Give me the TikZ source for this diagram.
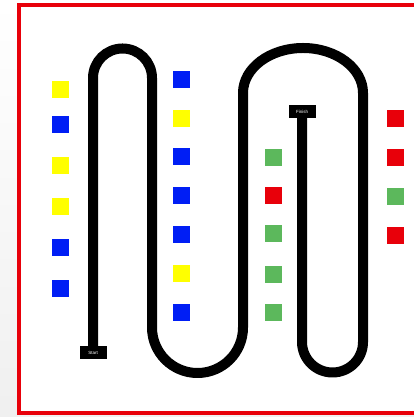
\documentclass[tikz,border=0pt]{standalone}
\usepackage{fontspec}
\setmainfont{Liberation Sans}
\definecolor{tileyellow}{RGB}{255,255,0}
\definecolor{tileblue}{RGB}{0,30,245}
\definecolor{tilered}{RGB}{232,0,10}
\definecolor{tilegreen}{RGB}{92,184,92}
\definecolor{frame}{RGB}{232,0,10}
\begin{document}
\begin{tikzpicture}[x=1pt,y=1pt,
  tile/.style={minimum size=17pt,inner sep=0pt,draw=none,fill=#1},
  track/.style={line width=10pt,line join=round,draw=black},
  label/.style={fill=black,text=white,minimum width=27pt,minimum height=13pt,
    inner sep=0pt,font=\fontsize{4.5}{5}\selectfont}]
\useasboundingbox (0,0) rectangle (414,417);
% page backdrop and board
\shade[top color=white,bottom color=gray!12] (0,0) rectangle (414,417);
\fill[white] (19,3.5) rectangle (420,412.3);
\draw[frame,line width=4pt] (19,3.5) rectangle (440,412.3);

% ends of the line
\coordinate (s) at (93,64);
\coordinate (f) at (302,305.5);

% the serpentine line from start to finish
\draw[track] (s) -- (93,339)
  arc[start angle=180,end angle=0,radius=29.5pt]
  -- (152,89.5)
  arc[start angle=180,end angle=360,radius=45.5pt]
  -- (243,324)
  arc[start angle=180,end angle=0,x radius=60pt,y radius=45pt]
  -- (363,75)
  arc[start angle=0,end angle=-180,radius=30.5pt]
  -- (f);

\node[label] (start) at (s) {Start};
\node[label] (finish) at (f) {Finish};

% column of tiles left of the first leg
\node[tile=tileyellow] (a1) at (60.5,327) {};
\node[tile=tileblue]   (a2) at (60.5,292) {};
\node[tile=tileyellow] (a3) at (60.5,251) {};
\node[tile=tileyellow] (a4) at (60.5,210) {};
\node[tile=tileblue]   (a5) at (60.5,169) {};
\node[tile=tileblue]   (a6) at (60.5,128) {};

% column of tiles inside the first valley
\node[tile=tileblue]   (b1) at (181.5,337) {};
\node[tile=tileyellow] (b2) at (181.5,298) {};
\node[tile=tileblue]   (b3) at (181.5,260) {};
\node[tile=tileblue]   (b4) at (181.5,221) {};
\node[tile=tileblue]   (b5) at (181.5,182) {};
\node[tile=tileyellow] (b6) at (181.5,143) {};
\node[tile=tileblue]   (b7) at (181.5,104) {};

% column of tiles inside the large loop
\node[tile=tilegreen] (c1) at (273.3,259.3) {};
\node[tile=tilered]   (c2) at (273.3,221.7) {};
\node[tile=tilegreen] (c3) at (273.3,183.3) {};
\node[tile=tilegreen] (c4) at (273.3,142.7) {};
\node[tile=tilegreen] (c5) at (273.3,104.3) {};

% column of tiles right of the last leg
\node[tile=tilered]   (d1) at (395,298) {};
\node[tile=tilered]   (d2) at (395,259.5) {};
\node[tile=tilegreen] (d3) at (395,220.5) {};
\node[tile=tilered]   (d4) at (395,181.5) {};
\end{tikzpicture}
\end{document}
